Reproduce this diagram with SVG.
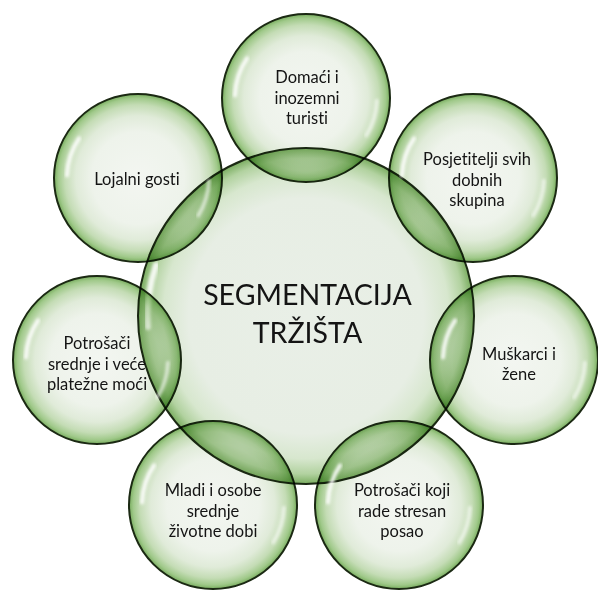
<svg xmlns="http://www.w3.org/2000/svg" xmlns:xlink="http://www.w3.org/1999/xlink" width="598" height="592" viewBox="0 0 598 592">
  <style>
    .txt { font-family: Lato, "Liberation Sans", sans-serif; font-size: 16.5px; fill: #141414; text-anchor: middle; font-variant-ligatures: none; }
    .main { font-family: Lato, "Liberation Sans", sans-serif; font-size: 28.5px; fill: #141414; text-anchor: middle; font-variant-ligatures: none; }
    .bub { mix-blend-mode: multiply; stroke: #1b2913; stroke-width: 2; }
    .hl { fill: none; stroke: #ffffff; stroke-linecap: round; filter: url(#blur); }
  </style>
  <defs>
    <radialGradient id="gOuter" cx="50%" cy="50%" r="50%">
      <stop offset="0" stop-color="#f3f6f1"/>
      <stop offset="0.55" stop-color="#eef3eb"/>
      <stop offset="0.74" stop-color="#e0ebd9"/>
      <stop offset="0.87" stop-color="#c4dcb5"/>
      <stop offset="0.95" stop-color="#a0c98a"/>
      <stop offset="1" stop-color="#78ad5e"/>
    </radialGradient>
    <radialGradient id="gCenter" cx="50%" cy="50%" r="50%">
      <stop offset="0" stop-color="#e9efe7"/>
      <stop offset="0.7" stop-color="#e7eee4"/>
      <stop offset="0.85" stop-color="#d7e7ce"/>
      <stop offset="0.94" stop-color="#b2d2a0"/>
      <stop offset="1" stop-color="#7aad60"/>
    </radialGradient>
    <filter id="blur" x="-20%" y="-20%" width="140%" height="140%">
      <feGaussianBlur stdDeviation="1.4"/>
    </filter>
    <g id="hlSmall">
      <path class="hl" d="M -58.9 -39.7 A 71 71 0 0 0 -71 -2.5" stroke-width="4" opacity="0.9"/>
      <path class="hl" d="M 70.9 2.5 A 71 71 0 0 1 60.2 37.6" stroke-width="3.5" opacity="0.65"/>
    </g>
  </defs>

  <g id="center">
    <circle class="bub" cx="306" cy="316" r="168" fill="url(#gCenter)"/>
    <path class="hl" d="M 156 265 A 158 158 0 0 0 148 327" stroke-width="6" opacity="0.85"/>
    <text class="main" x="307.5" y="305">SEGMENTACIJA</text>
    <text class="main" x="307.5" y="343">TRŽIŠTA</text>
  </g>

  <g id="connectors"></g>

  <g id="n-domaci" transform="translate(306,98)">
    <circle class="bub" r="84" fill="url(#gOuter)"/>
    <use href="#hlSmall"/>
    <text class="txt" x="1" y="-15">Domaći i</text>
    <text class="txt" x="1" y="5.5">inozemni</text>
    <text class="txt" x="1" y="25.5">turisti</text>
  </g>

  <g id="n-posjetitelji" transform="translate(473,178)">
    <circle class="bub" r="84" fill="url(#gOuter)"/>
    <use href="#hlSmall"/>
    <text class="txt" x="4" y="-13">Posjetitelji svih</text>
    <text class="txt" x="4" y="7.5">dobnih</text>
    <text class="txt" x="4" y="28">skupina</text>
  </g>

  <g id="n-muskarci" transform="translate(514,360)">
    <circle class="bub" r="84" fill="url(#gOuter)"/>
    <use href="#hlSmall"/>
    <text class="txt" x="5" y="-0.5">Muškarci i</text>
    <text class="txt" x="5" y="20">žene</text>
  </g>

  <g id="n-stresan" transform="translate(399,505)">
    <circle class="bub" r="84" fill="url(#gOuter)"/>
    <use href="#hlSmall"/>
    <text class="txt" x="3" y="-9">Potrošači koji</text>
    <text class="txt" x="3" y="11.5">rade stresan</text>
    <text class="txt" x="3" y="32">posao</text>
  </g>

  <g id="n-mladi" transform="translate(213,505)">
    <circle class="bub" r="84" fill="url(#gOuter)"/>
    <use href="#hlSmall"/>
    <text class="txt" x="0" y="-9">Mladi i osobe</text>
    <text class="txt" x="0" y="11.5">srednje</text>
    <text class="txt" x="0" y="32">životne dobi</text>
  </g>

  <g id="n-platezne" transform="translate(97,360)">
    <circle class="bub" r="84" fill="url(#gOuter)"/>
    <use href="#hlSmall"/>
    <text class="txt" x="0" y="-11">Potrošači</text>
    <text class="txt" x="0" y="9.5">srednje i veće</text>
    <text class="txt" x="0" y="30">platežne moći</text>
  </g>

  <g id="n-lojalni" transform="translate(138,178)">
    <circle class="bub" r="84" fill="url(#gOuter)"/>
    <use href="#hlSmall"/>
    <text class="txt" x="-1" y="7">Lojalni gosti</text>
  </g>
</svg>
